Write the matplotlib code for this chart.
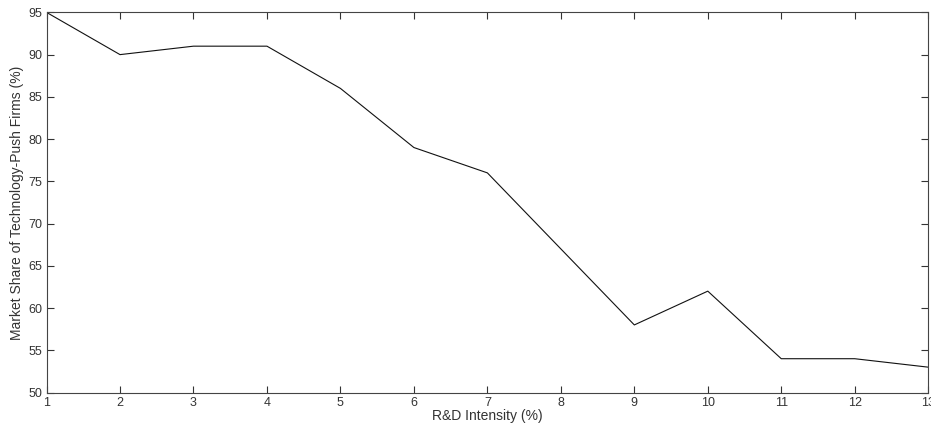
import matplotlib
matplotlib.use("Agg")
import matplotlib.pyplot as plt

rd_intensity = [1, 2, 3, 4, 5, 6, 7, 8, 9, 10, 11, 12, 13]
market_share = [95, 90, 91, 91, 86, 79, 76, 67, 58, 62, 54, 54, 53]
x_ticks = list(range(1, 14))
y_ticks = list(range(50, 96, 5))

plt.rcParams['font.family'] = ['Liberation Sans', 'DejaVu Sans']
fig = plt.figure(figsize=(9.31, 4.30), dpi=100)
ax = fig.add_axes([0.0500, 0.0872, 0.9470, 0.884])
ax.plot(rd_intensity, market_share, color='#111111', linewidth=0.8)
ax.set_xlim(1, 13)
ax.set_ylim(50, 95)
ax.set_xticks(x_ticks)
ax.set_yticks(y_ticks)
ax.tick_params(direction='in', length=5, width=0.8, top=True, right=True,
               labelsize=9, colors='#333333', pad=3)
for s in ax.spines.values():
    s.set_color('#444444')
    s.set_linewidth(0.8)
ax.set_xlabel('R&D Intensity (%)', fontsize=10, color='#333333', labelpad=0)
ax.set_ylabel('Market Share of Technology-Push Firms (%)', fontsize=10, color='#333333', labelpad=3)
fig.savefig('out.png', dpi=100)
